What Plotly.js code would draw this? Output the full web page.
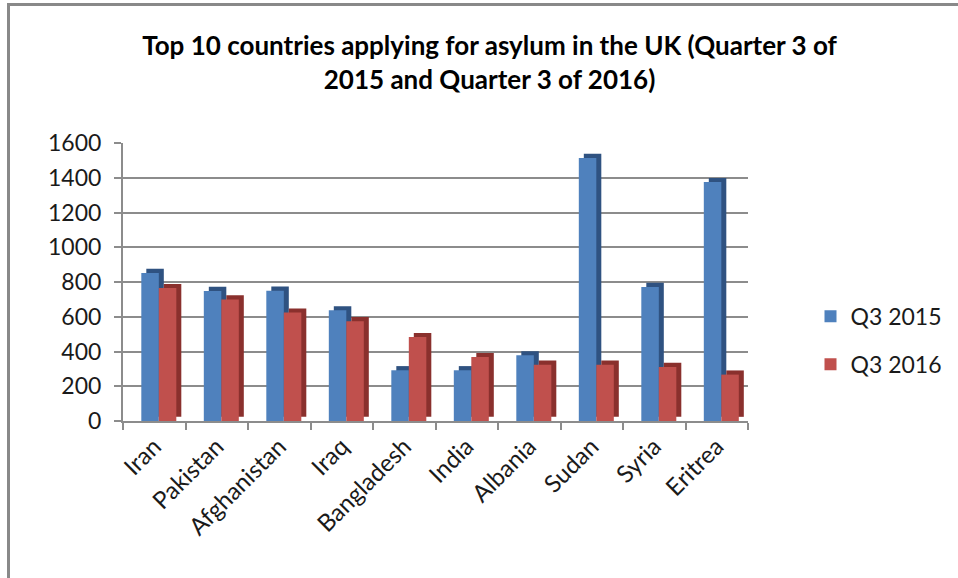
<!DOCTYPE html>
<html>
<head>
<meta charset="utf-8">
<script src="https://cdn.plot.ly/plotly-3.0.1.min.js"></script>
<style>
  html, body { margin: 0; padding: 0; background: #fff; }
  #wrap { position: relative; width: 958px; height: 578px; overflow: hidden; }
  #chart { position: absolute; left: 0; top: 0; width: 958px; height: 578px; }
  #frame { position: absolute; left: 7px; top: 3px; width: 970px; height: 600px;
           border-left: 3px solid #898989; border-top: 3px solid #898989; pointer-events: none; }
</style>
</head>
<body>
<div id="wrap">
  <div id="chart"></div>
  <div id="frame"></div>
</div>
<script>
const countries = ["Iran", "Pakistan", "Afghanistan", "Iraq", "Bangladesh", "India", "Albania", "Sudan", "Syria", "Eritrea"];
const q3_2015 = [852, 748, 750, 637, 292, 292, 378, 1514, 771, 1375];
const q3_2016 = [765, 700, 624, 574, 483, 368, 324, 324, 311, 267];
const yTicks = [0, 200, 400, 600, 800, 1000, 1200, 1400, 1600];

const blue = "#4f81bd", blueDark = "#2f5281";
const red = "#c0504d", redDark = "#8a302d";
const W = 0.28;        // bar width in category units
const depthX = 0.08;   // fake 3D depth (horizontal)
const depthY = 24;     // fake 3D depth (vertical, data units)

function depth(vals) { return vals.map(() => depthY); }

const traces = [
  { type: "bar", x: countries, y: q3_2015, base: depth(q3_2015), offset: -0.207 + depthX, width: W,
    marker: { color: blueDark, line: { width: 0 } }, showlegend: false, hoverinfo: "skip" },
  { type: "bar", name: "Q3 2015", x: countries, y: q3_2015, offset: -0.207, width: W,
    marker: { color: blue, line: { width: 0 } }, legendgroup: "a" },
  { type: "bar", x: countries, y: q3_2016, base: depth(q3_2016), offset: 0.073 + depthX, width: W,
    marker: { color: redDark, line: { width: 0 } }, showlegend: false, hoverinfo: "skip" },
  { type: "bar", name: "Q3 2016", x: countries, y: q3_2016, offset: 0.073, width: W,
    marker: { color: red, line: { width: 0 } }, legendgroup: "b" }
];

const font = "Lato, 'Open Sans', sans-serif";
const layout = {
  width: 958, height: 578,
  paper_bgcolor: "#fff", plot_bgcolor: "#fff",
  margin: { l: 123, r: 207, t: 143, b: 157 },
  barmode: "overlay",
  showlegend: true,
  title: {
    text: "<b>Top 10 countries applying for asylum in the UK (Quarter 3 of<br>2015 and Quarter 3 of 2016)</b>",
    font: { family: font, size: 26, color: "#000" },
    x: 0.511, xanchor: "center", xref: "container",
    y: 0.905, yanchor: "top", yref: "container"
  },
  xaxis: {
    type: "category", categoryorder: "array", categoryarray: countries,
    range: [-0.5, 9.5],
    tickangle: -45,
    ticks: "outside", tickson: "boundaries", ticklen: 7, tickwidth: 2, tickcolor: "#8c8c8c",
    showline: true, linecolor: "#8c8c8c", linewidth: 2,
    tickfont: { family: font, size: 24, color: "#1a1a1a" },
    showgrid: false, zeroline: false
  },
  yaxis: {
    range: [0, 1600], tickvals: yTicks, ticktext: yTicks.map(String),
    ticks: "outside", ticklen: 7, tickwidth: 2, tickcolor: "#8c8c8c",
    showline: true, linecolor: "#8c8c8c", linewidth: 2,
    showgrid: true, gridcolor: "#8c8c8c", gridwidth: 2,
    zeroline: false,
    tickfont: { family: font, size: 23, color: "#1a1a1a" },
    ticklabelstandoff: 8
  },
  legend: {
    x: 1.1, xanchor: "left", y: 0.29, yanchor: "middle",
    font: { family: font, size: 23, color: "#1a1a1a" },
    tracegroupgap: 15, itemwidth: 30, bgcolor: "rgba(0,0,0,0)"
  },
  bargap: 0.44
};

Plotly.newPlot("chart", traces, layout, { staticPlot: true, displayModeBar: false });
</script>
</body>
</html>
